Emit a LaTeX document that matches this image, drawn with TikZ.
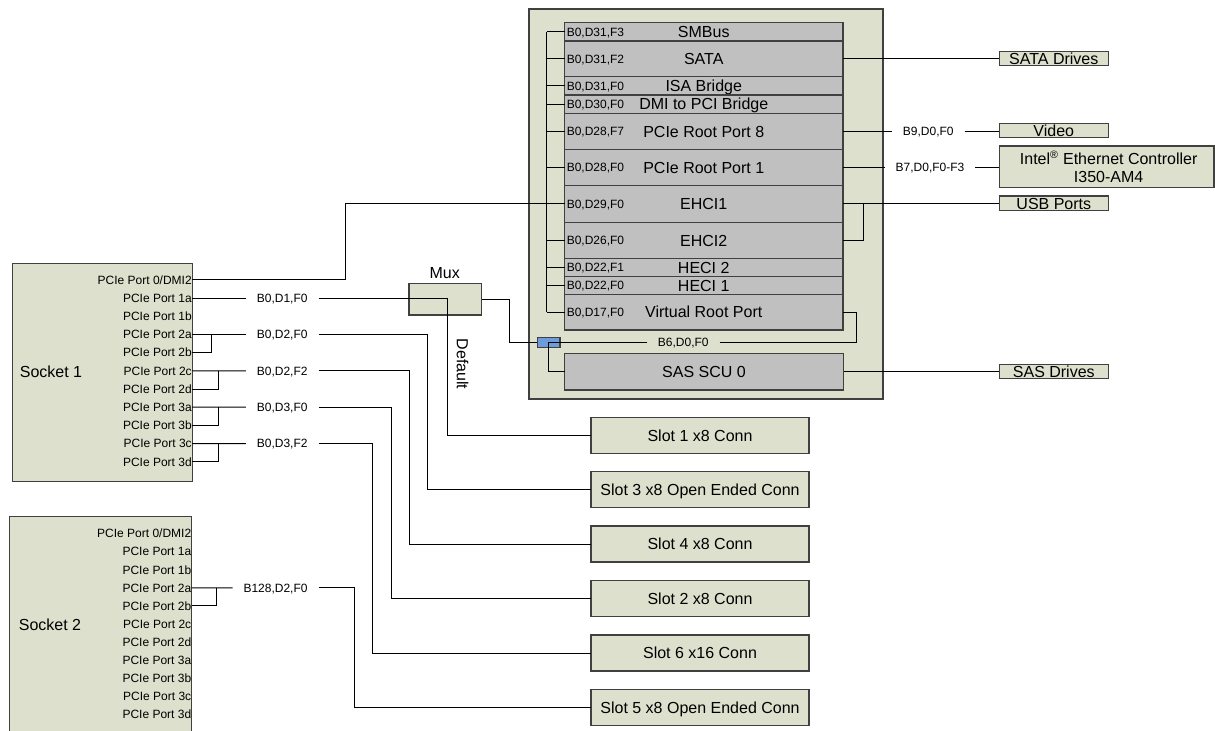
\documentclass[tikz,border=0pt]{standalone}
\usepackage{fontspec}
\setmainfont{Liberation Sans}
\definecolor{beige}{RGB}{221,224,204}
\definecolor{boxgray}{RGB}{192,192,192}
\definecolor{chipblue}{RGB}{108,156,220}
\definecolor{edge}{RGB}{64,64,64}
\newcommand{\mkbox}[6]{%
  \pgfmathsetmacro{\mkw}{(#4-#2)*0.75}%
  \pgfmathsetmacro{\mkh}{(#5-#3)*0.75}%
  \node[#6, minimum width=\mkw pt, minimum height=\mkh pt, inner sep=0pt, outer sep=0pt] (#1) at ({(#2+#4)/2},{(#3+#5)/2}) {};%
}
\tikzset{
  pchbox/.style={draw=edge, fill=beige, line width=1pt},
  rowbox/.style={draw=edge, fill=boxgray, line width=0.8pt},
  gbox/.style={draw=edge, fill=beige, line width=0.8pt},
  bluebox/.style={draw=edge, fill=chipblue, line width=0.8pt},
  wire/.style={draw=black, line width=0.75pt},
  t12/.style={font=\fontsize{12}{14}\selectfont, inner sep=0pt, text height=8.6pt, text depth=0pt},
  t9/.style={font=\fontsize{9}{11}\selectfont, inner sep=0pt, text height=6.45pt, text depth=0pt},
  lbl/.style={t9, inner xsep=8pt},
  port/.style={t9, anchor=east},
}
\begin{document}
\begin{tikzpicture}[x=0.75pt,y=-0.75pt]
\useasboundingbox (0,0) rectangle (1215,731);
\clip (0,0) rectangle (1215,731);

% ---------- PCH ----------
\mkbox{pch}{529}{9}{883}{399}{pchbox}
\foreach \n/\ya/\yb/\tx/\lb in {
  smbus/22.7/41/SMBus/{B0,D31,F3},
  sata/41/76.7/SATA/{B0,D31,F2},
  isa/76.7/95/ISA Bridge/{B0,D31,F0},
  dmi/95/113.3/DMI to PCI Bridge/{B0,D30,F0},
  rp8/113.3/149.3/PCIe Root Port 8/{B0,D28,F7},
  rp1/149.3/185.7/PCIe Root Port 1/{B0,D28,F0},
  ehci1/185.7/222.3/EHCI1/{B0,D29,F0},
  ehci2/222.3/258.3/EHCI2/{B0,D26,F0},
  heci2/258.3/276.3/HECI 2/{B0,D22,F1},
  heci1/276.3/294.3/HECI 1/{B0,D22,F0},
  vrp/294.3/330/Virtual Root Port/{B0,D17,F0}}{
  \mkbox{\n}{564.5}{\ya}{843}{\yb}{rowbox}
  \node[t12] (\n T) at (\n.center) {\tx};
  \node[t9, anchor=west] (\n L) at ([xshift=1.5pt]\n.west) {\lb};
}
\mkbox{sas}{564.5}{353.3}{843.5}{390}{rowbox}
\node[t12] (sasT) at (sas.center) {SAS SCU 0};
\mkbox{blue}{537.3}{337.7}{560}{347.3}{bluebox}

% ---------- right boxes ----------
\mkbox{satad}{999.3}{51.7}{1108.3}{65.7}{gbox}
\node[t12] (satadT) at (satad.center) {SATA Drives};
\mkbox{video}{999.3}{123.3}{1108.3}{137.7}{gbox}
\node[t12] (videoT) at (video.center) {Video};
\mkbox{eth}{999.3}{146}{1214}{187.7}{gbox}
\node[align=center, font=\fontsize{12}{13.5}\selectfont, inner sep=0pt] (ethT) at ([xshift=1.5pt]eth.center) {Intel\textsuperscript{®} Ethernet Controller\\I350-AM4};
\mkbox{usb}{999.3}{196}{1108.3}{210.7}{gbox}
\node[t12] (usbT) at (usb.center) {USB Ports};
\mkbox{sasd}{999.3}{364.3}{1108.3}{378.3}{gbox}
\node[t12] (sasdT) at (sasd.center) {SAS Drives};

% ---------- mux ----------
\mkbox{mux}{409}{283.3}{481.7}{315}{gbox}
\node[t12] (muxT) at (444.7,273) {Mux};
\node[t12, rotate=-90] (deflt) at (462.5,364) {Default};

% ---------- slots ----------
\foreach \n/\ya/\tx in {slot1/417.3/Slot 1 x8 Conn, slot3/471.7/Slot 3 x8 Open Ended Conn, slot4/526/Slot 4 x8 Conn, slot2/580.3/Slot 2 x8 Conn, slot6/635/Slot 6 x16 Conn, slot5/689.3/Slot 5 x8 Open Ended Conn}{
  \mkbox{\n}{591}{\ya}{809}{\ya+36}{gbox}
  \node[t12] (\n T) at (\n.center) {\tx};
}

% ---------- sockets ----------
\mkbox{s1}{12.3}{263.3}{192.7}{481.2}{gbox}
\node[t12] (s1T) at (51,371.7) {Socket 1};
\node[port] (s1p0) at (192,280) {PCIe Port 0/DMI2};
\foreach \k [count=\i from 1] in {1a,1b,2a,2b,2c,2d,3a,3b,3c,3d}{
  \node[port] (s1p\k) at (192,280+\i*18.17) {PCIe Port \k};
}
\mkbox{s2}{9.5}{516.7}{191.7}{760}{gbox}
\node[t12] (s2T) at (50,624.5) {Socket 2};
\node[port] (s2p0) at (191.5,533.5) {PCIe Port 0/DMI2};
\foreach \k [count=\i from 1] in {1a,1b,2a,2b,2c,2d,3a,3b,3c,3d}{
  \node[port] (s2p\k) at (191.5,533.5+\i*18.1) {PCIe Port \k};
}

% ---------- bus labels ----------
\node[lbl, anchor=east] (lb01) at (318.5,298.17) {B0,D1,F0};
\node[lbl, anchor=east] (lb02) at (318.5,334.51) {B0,D2,F0};
\node[lbl, anchor=east] (lb22) at (318.5,370.85) {B0,D2,F2};
\node[lbl, anchor=east] (lb30) at (318.5,407.19) {B0,D3,F0};
\node[lbl, anchor=east] (lb32) at (318.5,443.53) {B0,D3,F2};
\node[lbl, anchor=east] (lb128) at (318.5,587.8) {B128,D2,F0};
\node[lbl] (lb6) at (683.3,342.5) {B6,D0,F0};
\node[lbl] (lb9) at (928.3,131.3) {B9,D0,F0};
\node[lbl] (lb7) at (930,167.5) {B7,D0,F0-F3};

% ---------- coordinates for bends ----------
\coordinate (busx) at (546.7,0);
\coordinate (dmix) at (345.7,0);
\coordinate (usbx) at (863.3,0);
\coordinate (vrpx) at (856.7,0);
\coordinate (muxx) at (509,0);
\coordinate (defx) at (447.7,0);
\coordinate (br1) at (211.7,0);
\coordinate (br2) at (218.3,0);
\coordinate (br3) at (216.7,0);
\coordinate (v3) at (427.3,0);
\coordinate (v4) at (409.3,0);
\coordinate (v2) at (391,0);
\coordinate (v6) at (372.7,0);
\coordinate (v5) at (354.3,0);

% ---------- PCH internal bus ----------
\draw[wire] (busx |- smbus.west) -- (busx |- vrp.west);
\foreach \r in {smbus,sata,isa,dmi,rp8,rp1,ehci2,heci2,heci1,vrp}{
  \draw[wire] (busx |- \r.west) -- (\r.west);
}
\draw[wire] (s1p0.east) -| (dmix |- ehci1.west) -- (ehci1.west);

% ---------- right side ----------
\draw[wire] (sata.east) -- (sata.east -| satad.west);
\draw[wire] (rp8.east) -- (lb9.west);
\draw[wire] (lb9.east) -- (lb9.east -| video.west);
\draw[wire] (rp1.east) -- (lb7.west);
\draw[wire] (lb7.east) -- (lb7.east -| eth.west);
\draw[wire] (ehci1.east) -- (ehci1.east -| usb.west);
\draw[wire] (ehci2.east) -| (usbx |- ehci1.east);
\draw[wire] (sas.east) -- (sas.east -| sasd.west);

% ---------- virtual root port / SAS ----------
\draw[wire] (lb6.east) -| (vrpx |- vrp.east) -- (vrp.east);
\draw[wire] (lb6.west) -- (blue.center) |- (sas.west);
\draw[wire] (mux.east) -| (muxx |- blue.west) -- (blue.west);

% ---------- socket 1 ----------
\draw[wire] (s1p1a.east) -- (lb01.west);
\draw[wire] (lb01.east) -| (defx |- slot1.west) -- (slot1.west);
\draw[wire] (s1p2a.east) -- (lb02.west);
\draw[wire] (s1p2b.east) -| (br1 |- s1p2a.east);
\draw[wire] (s1p2c.east) -- (lb22.west);
\draw[wire] (s1p2d.east) -| (br2 |- s1p2c.east);
\draw[wire] (s1p3a.east) -- (lb30.west);
\draw[wire] (s1p3b.east) -| (br2 |- s1p3a.east);
\draw[wire] (s1p3c.east) -- (lb32.west);
\draw[wire] (s1p3d.east) -| (br2 |- s1p3c.east);
\draw[wire] (lb02.east) -| (v3 |- slot3.west) -- (slot3.west);
\draw[wire] (lb22.east) -| (v4 |- slot4.west) -- (slot4.west);
\draw[wire] (lb30.east) -| (v2 |- slot2.west) -- (slot2.west);
\draw[wire] (lb32.east) -| (v6 |- slot6.west) -- (slot6.west);

% ---------- socket 2 ----------
\draw[wire] (s2p2a.east) -- (lb128.west);
\draw[wire] (s2p2b.east) -| (br3 |- s2p2a.east);
\draw[wire] (lb128.east) -| (v5 |- slot5.west) -- (slot5.west);
\end{tikzpicture}
\end{document}
